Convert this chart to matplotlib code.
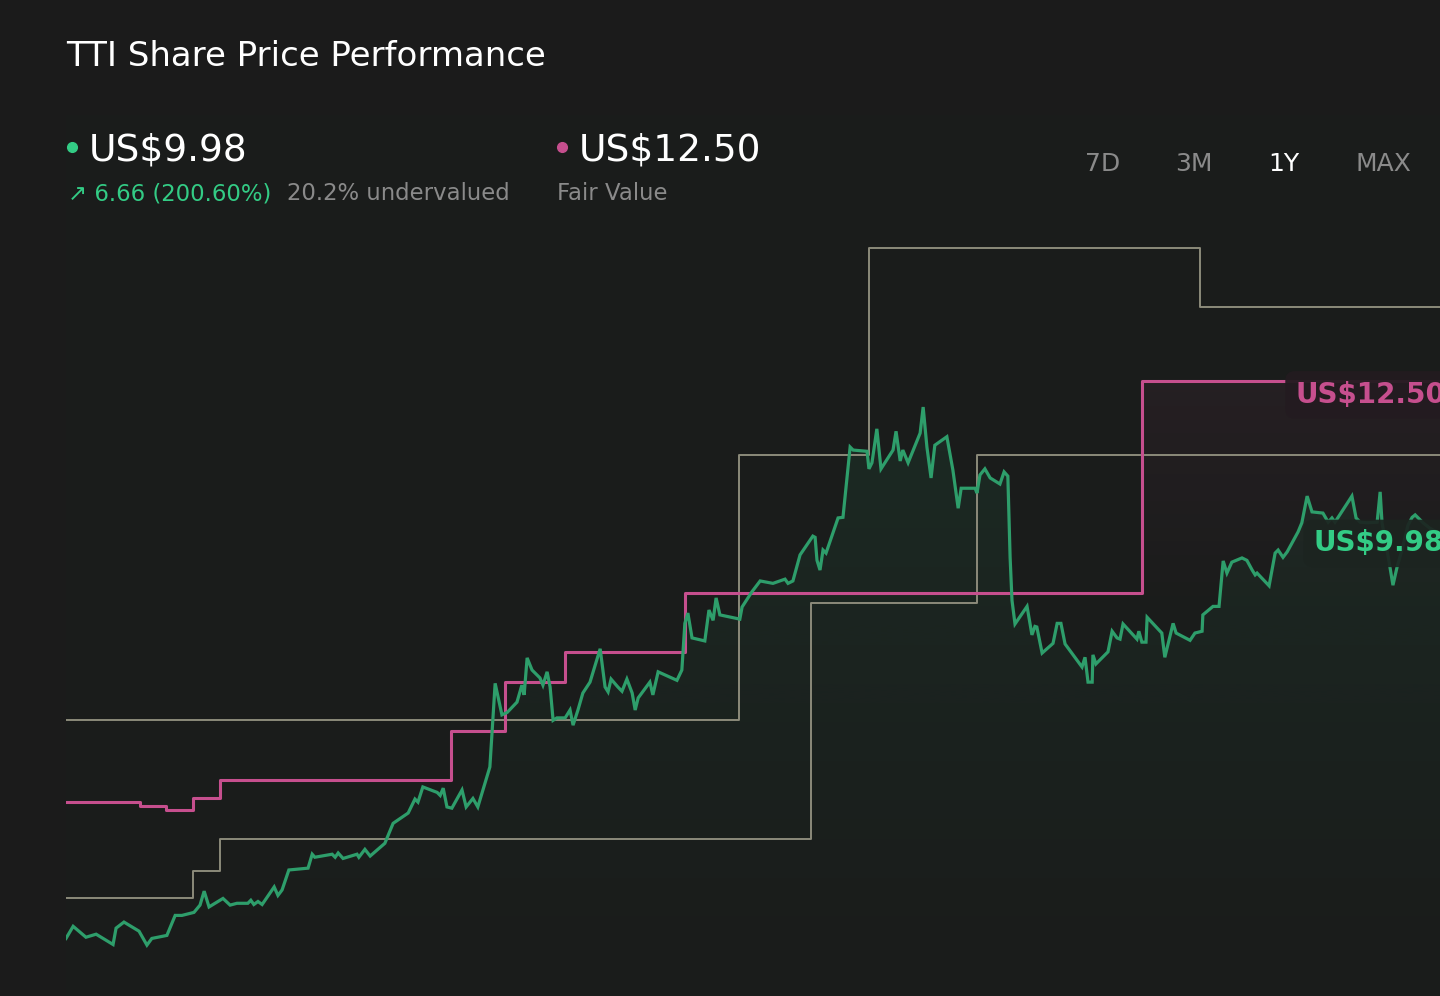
import matplotlib
matplotlib.use("Agg")
import matplotlib.pyplot as plt
import numpy as np
from matplotlib.colors import to_rgb
from matplotlib.lines import Line2D

BG = "#1b1b1b"
PLOT_BG = "#1a1c1b"
GREEN = "#2e9e6b"
GREEN_TEXT = "#33cc85"
PINK = "#c64f8e"
STEP_GRAY = "#8c8a7a"
MUTED = "#8a8a8a"

# share price, days since start of the 1Y window
days = [
    0.0, 1.9, 5.3, 8.0, 12.5, 13.3, 15.4, 19.4, 21.5, 22.8, 26.8, 29.0, 30.8, 34.0,
    35.6, 36.7, 38.0, 41.7, 43.6, 45.4, 48.3, 49.1, 49.9, 51.0, 52.1, 55.3, 56.3,
    57.4, 59.2, 64.3, 65.4, 66.1, 70.7, 71.5, 72.3, 73.6, 77.3, 77.8, 79.4, 80.8,
    84.7, 86.9, 90.9, 92.7, 93.5, 94.8, 98.6, 99.4, 100.2, 101.2, 102.5, 105.2,
    106.3, 108.1, 109.4, 112.6, 114.0, 115.8, 117.2, 119.8, 121.1, 121.7, 122.5,
    123.8, 125.9, 126.7, 127.8, 128.6, 129.4, 130.4, 132.6, 133.9, 134.7, 136.0,
    137.3, 139.2, 141.9, 143.2, 144.0, 144.8, 146.6, 147.7, 149.0, 150.4, 151.2,
    152.0, 155.1, 155.9, 157.3, 160.5, 162.3, 163.6, 164.4, 165.2, 166.3, 169.7,
    170.8, 171.9, 172.7, 173.7, 179.0, 179.6, 182.2, 184.4, 187.8, 191.0, 191.8,
    193.1, 195.0, 198.4, 199.0, 199.5, 200.3, 201.1, 201.9, 205.1, 206.4, 208.3,
    209.1, 212.8, 213.3, 214.1, 215.4, 216.5, 219.7, 220.5, 221.6, 222.3, 223.7,
    226.9, 227.7, 228.7, 229.8, 230.8, 234.0, 235.6, 237.0, 237.8, 241.5, 242.0,
    242.8, 244.1, 245.5, 248.1, 249.2, 250.2, 250.8, 251.3, 252.1, 255.3, 256.6,
    257.4, 257.9, 259.3, 262.2, 263.3, 264.3, 265.4, 269.9, 270.7, 271.5, 272.6,
    272.8, 273.6, 276.8, 277.9, 279.2, 280.0, 280.8, 284.5, 285.0, 285.8, 286.9,
    287.2, 291.1, 291.9, 294.1, 294.9, 298.6, 299.9, 301.8, 302.0, 304.7, 306.3,
    307.4, 308.4, 309.7, 312.4, 313.7, 315.1, 315.9, 316.4, 319.6, 321.2, 322.0,
    323.3, 324.4, 327.3, 328.3, 329.7, 331.0, 333.9, 335.3, 336.3, 337.1, 341.6,
    342.7, 343.8, 345.6, 348.3, 349.1, 349.6, 350.7, 351.7, 352.5, 353.6, 354.9,
    356.5, 357.6, 358.4, 360.5, 362.3, 365.0,
]
price = [
    3.30, 3.50, 3.32, 3.37, 3.20, 3.47, 3.57, 3.42, 3.19, 3.30, 3.35, 3.68, 3.68, 3.73,
    3.85, 4.08, 3.82, 3.96, 3.85, 3.88, 3.88, 3.93, 3.86, 3.91, 3.86, 4.15, 4.01,
    4.10, 4.43, 4.46, 4.69, 4.64, 4.69, 4.64, 4.71, 4.62, 4.69, 4.64, 4.77, 4.66,
    4.87, 5.20, 5.37, 5.60, 5.55, 5.80, 5.71, 5.66, 5.78, 5.47, 5.45, 5.75,
    5.47, 5.61, 5.47, 6.13, 7.51, 6.99, 7.03, 7.20, 7.48, 7.32, 7.93,
    7.73, 7.60, 7.48, 7.70, 7.45, 6.90, 6.94, 6.94, 7.07, 6.82, 7.07,
    7.35, 7.53, 8.08, 7.45, 7.37, 7.58, 7.45, 7.38, 7.58, 7.35, 7.07,
    7.27, 7.53, 7.32, 7.70, 7.61, 7.56, 7.73, 8.50, 8.67, 8.26, 8.21,
    8.72, 8.55, 8.92, 8.64, 8.57, 8.77, 9.02, 9.20, 9.16, 9.23, 9.16,
    9.20, 9.63, 9.94, 9.92, 9.54, 9.38, 9.71, 9.66, 10.24, 10.25, 11.41,
    11.36, 11.34, 11.05, 11.15, 11.71, 11.05, 11.36, 11.67, 11.18, 11.36, 11.15,
    11.64, 12.07, 11.41, 10.90, 11.44, 11.58, 11.03, 10.40, 10.73, 10.73, 10.65,
    10.95, 11.05, 10.90, 10.80, 11.00, 10.93, 9.59, 8.88, 8.49, 8.78, 8.31,
    8.45, 8.44, 8.01, 8.17, 8.50, 8.50, 8.16, 7.78, 7.94, 7.53, 7.53,
    7.98, 7.83, 8.03, 8.37, 8.26, 8.24, 8.49, 8.24, 8.37, 8.19, 8.19,
    8.60, 8.34, 7.94, 8.50, 8.34, 8.22, 8.34, 8.37, 8.64, 8.78, 8.78,
    9.53, 9.33, 9.51, 9.58, 9.54, 9.38, 9.30, 9.33, 9.12, 9.66, 9.71,
    9.59, 9.68, 10.01, 10.16, 10.60, 10.34, 10.32, 10.17, 10.24, 10.17, 10.60,
    10.24, 10.17, 10.16, 10.17, 10.67, 10.16, 9.79, 9.43, 9.13, 9.43, 9.71,
    10.12, 10.25, 10.29, 10.16, 10.07, 9.98,
]

# fair value estimate (step changes)
fv_days = [0, 19.7, 26.6, 33.7, 40.9, 102.3, 116.6, 132.6, 164.4, 285.8, 365]
fv_value = [5.55, 5.48, 5.42, 5.62, 5.91, 6.72, 7.53, 8.03, 9.00, 12.50, 12.50]

# analyst price target range
high_days = [0, 178.8, 213.3, 301.2, 365]
high_value = [6.90, 11.28, 14.70, 13.72, 13.72]
low_days = [0, 33.7, 40.9, 197.9, 242.0, 365]
low_value = [3.96, 4.41, 4.94, 8.83, 11.28, 11.28]

last_price = "US$9.98"
fair_value = "US$12.50"
change_text = "\u2197 6.66 (200.60%)"
valuation_text = "20.2% undervalued"
periods = ["7D", "3M", "1Y", "MAX"]
period_x = [1085, 1175, 1268, 1355]

W, H = 1440, 996
Y_MIN, Y_MAX = 2.35, 16.89


def fx(px):
    return px / W


def fy(py):
    return 1 - py / H


def gradient_under(ax, coll, color, alpha_fn, zorder):
    path = coll.get_paths()[0]
    levels = np.linspace(Y_MIN, Y_MAX, 300)
    rgba = np.zeros((300, 1, 4))
    rgba[..., :3] = to_rgb(color)
    rgba[:, 0, 3] = alpha_fn(levels)
    im = ax.imshow(rgba, aspect="auto", origin="lower",
                   extent=[0, 365, Y_MIN, Y_MAX], zorder=zorder,
                   interpolation="bilinear")
    im.set_clip_path(path, ax.transData)


fig = plt.figure(figsize=(W / 100, H / 100), dpi=100, facecolor=BG)
ax = fig.add_axes([fx(66), 0, 1 - fx(66), fy(115)])
ax.set_facecolor(PLOT_BG)
for s in ax.spines.values():
    s.set_visible(False)
ax.set_xticks([])
ax.set_yticks([])

# soft fills under fair value and price
pink_fill = ax.fill_between(fv_days, fv_value, Y_MIN, step="post", color="none", lw=0)
gradient_under(ax, pink_fill, PINK,
               lambda p: np.clip((p - 8.5) / 4.0, 0, 1) * 0.07, zorder=1)
green_fill = ax.fill_between(days, price, Y_MIN, color="none", lw=0)
gradient_under(ax, green_fill, GREEN,
               lambda p: np.clip((p - 3.0) / 9.0, 0, 1) * 0.11, zorder=1.5)

ax.plot(high_days, high_value, drawstyle="steps-post", color=STEP_GRAY, lw=1.4, zorder=2)
ax.plot(low_days, low_value, drawstyle="steps-post", color=STEP_GRAY, lw=1.4, zorder=2)
ax.plot(fv_days, fv_value, drawstyle="steps-post", color=PINK, lw=2.2, zorder=3)
ax.plot(days, price, color=GREEN, lw=2.3, zorder=4, solid_joinstyle="miter")

ax.set_xlim(0, 365)
ax.set_ylim(Y_MIN, Y_MAX)

# end-of-line value tags
ax.annotate(fair_value, xy=(fx(1295 - 66) * W / 1374, fv_value[-1]),
            xycoords=("axes fraction", "data"), xytext=(0, -10),
            textcoords="offset points", ha="left", va="center",
            fontsize=20, fontweight="bold", color=PINK, zorder=6,
            annotation_clip=False,
            bbox=dict(boxstyle="round,pad=0.35", fc="#231b20", ec="none", alpha=0.95))
ax.annotate(last_price, xy=(fx(1313 - 66) * W / 1374, price[-1]),
            xycoords=("axes fraction", "data"), xytext=(0, -7),
            textcoords="offset points", ha="left", va="center",
            fontsize=20, fontweight="bold", color=GREEN_TEXT, zorder=6,
            annotation_clip=False,
            bbox=dict(boxstyle="round,pad=0.35", fc="#1c2420", ec="none", alpha=0.92))

# header
fig.text(fx(66), fy(66), "TTI Share Price Performance", fontsize=24.5,
         color="white", va="baseline")
fig.add_artist(Line2D([fx(72)], [fy(147)], marker="o", markersize=7,
                      color=GREEN_TEXT, transform=fig.transFigure))
fig.add_artist(Line2D([fx(562)], [fy(147)], marker="o", markersize=7,
                      color=PINK, transform=fig.transFigure))
fig.text(fx(89), fy(161), last_price, fontsize=27, color="white", va="baseline")
fig.text(fx(579), fy(161), fair_value, fontsize=27, color="white", va="baseline")
fig.text(fx(68), fy(200), change_text, fontsize=16.4, color=GREEN_TEXT, va="baseline")
fig.text(fx(287), fy(200), valuation_text, fontsize=16.4, color=MUTED, va="baseline")
fig.text(fx(557), fy(200), "Fair Value", fontsize=16.4, color=MUTED, va="baseline")

for label, px in zip(periods, period_x):
    fig.text(fx(px), fy(171), label, fontsize=18,
             color="white" if label == "1Y" else MUTED, va="baseline")

fig.savefig("out.png", dpi=100, facecolor=BG)
